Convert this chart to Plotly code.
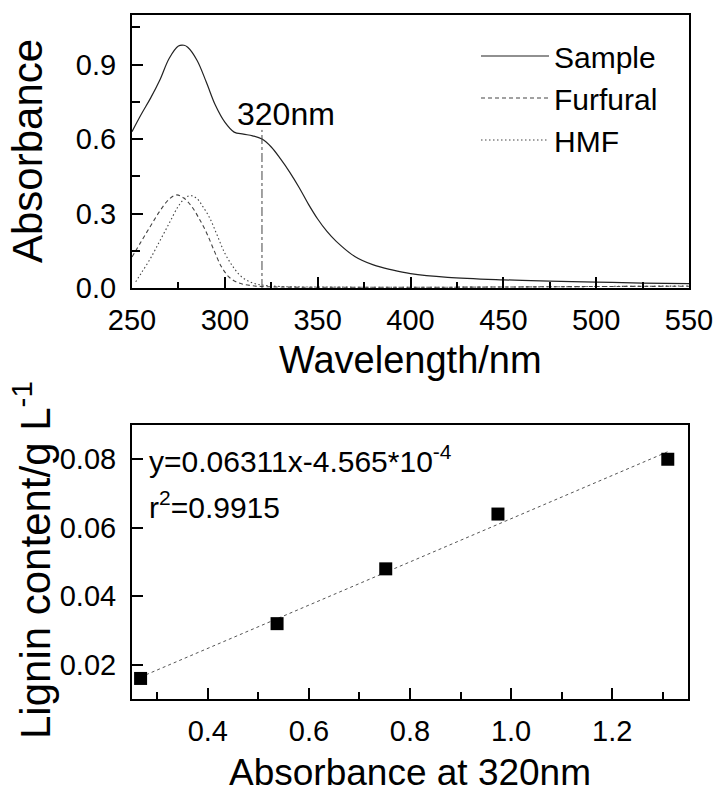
import plotly.graph_objects as go

W, H = 718, 794

# ---- top panel: UV spectra ----
sample_nm = [250, 255, 260, 265, 270, 275, 278, 280, 285, 290, 295, 300, 305, 310, 315, 320,
             325, 330, 335, 340, 345, 350, 355, 360, 370, 380, 390, 400, 420, 450, 475, 500, 525, 550]
sample_abs = [0.630, 0.700, 0.765, 0.838, 0.925, 0.975, 0.978, 0.970, 0.918, 0.830, 0.735, 0.668,
              0.628, 0.620, 0.613, 0.600, 0.568, 0.520, 0.466, 0.405, 0.338, 0.278, 0.228, 0.188,
              0.127, 0.093, 0.073, 0.058, 0.043, 0.033, 0.028, 0.024, 0.020, 0.018]

furfural_nm = [250, 255, 260, 265, 270, 274, 278, 282, 286, 290, 294, 298, 302, 306, 310, 315,
               320, 330, 350, 400, 450, 500, 550]
furfural_abs = [0.125, 0.188, 0.250, 0.310, 0.358, 0.375, 0.362, 0.330, 0.282, 0.225, 0.155, 0.088,
                0.046, 0.025, 0.015, 0.009, 0.006, 0.004, 0.003, 0.003, 0.004, 0.006, 0.007]

hmf_nm = [252, 255, 260, 265, 270, 275, 279, 282, 285, 288, 292, 296, 300, 304, 308, 312, 316,
          320, 330, 350, 400, 450, 500, 550]
hmf_abs = [0.025, 0.060, 0.120, 0.190, 0.260, 0.330, 0.365, 0.372, 0.360, 0.330, 0.280, 0.210,
           0.140, 0.090, 0.052, 0.030, 0.018, 0.012, 0.006, 0.004, 0.003, 0.004, 0.006, 0.008]

marker_nm = [320, 320]
marker_abs = [0.0, 0.637]

# ---- bottom panel: calibration ----
cal_abs = [0.267, 0.537, 0.752, 0.974, 1.310]
cal_lignin = [0.016, 0.032, 0.048, 0.064, 0.080]
fit_x = [0.267, 1.310]
fit_y = [0.0164, 0.0822]

FONT = "Liberation Sans, Arial, sans-serif"

# plot-area frames in pixels (left, right, top, bottom)
TOP = (132, 689, 15, 288)
BOT = (132, 688, 425, 699)


def xdom(b):
    return [b[0] / W, b[1] / W]


def ydom(b):
    return [1 - b[3] / H, 1 - b[2] / H]


fig = go.Figure()
fig.add_trace(go.Scatter(x=sample_nm, y=sample_abs, mode="lines", name="Sample",
                         line=dict(color="#222", width=1.2, shape="spline"), xaxis="x", yaxis="y"))
fig.add_trace(go.Scatter(x=furfural_nm, y=furfural_abs, mode="lines", name="Furfural",
                         line=dict(color="#444", width=1.1, dash="4px,3px", shape="spline"),
                         xaxis="x", yaxis="y"))
fig.add_trace(go.Scatter(x=hmf_nm, y=hmf_abs, mode="lines", name="HMF",
                         line=dict(color="#444", width=1.1, dash="1.5px,2.5px", shape="spline"),
                         xaxis="x", yaxis="y"))
fig.add_trace(go.Scatter(x=marker_nm, y=marker_abs, mode="lines", showlegend=False,
                         line=dict(color="#444", width=1, dash="dashdot"), xaxis="x", yaxis="y"))

fig.add_trace(go.Scatter(x=fit_x, y=fit_y, mode="lines", showlegend=False,
                         line=dict(color="#555", width=1, dash="dot"), xaxis="x2", yaxis="y2"))
fig.add_trace(go.Scatter(x=cal_abs, y=cal_lignin, mode="markers", showlegend=False,
                         marker=dict(symbol="square", size=13, color="black"),
                         xaxis="x2", yaxis="y2"))

axis_common = dict(showline=True, linecolor="black", linewidth=2, mirror=True,
                   ticks="inside", tickcolor="black", tickwidth=1.5, ticklen=11,
                   showgrid=False, zeroline=False, automargin=False,
                   tickfont=dict(family=FONT, size=29, color="black"))

tfont = lambda s: dict(family=FONT, size=s, color="black")

fig.update_layout(
    template="none",
    width=W, height=H,
    margin=dict(l=0, r=0, t=0, b=0, pad=0),
    paper_bgcolor="white", plot_bgcolor="white",
    font=dict(family=FONT, color="black"),
    xaxis=dict(axis_common, domain=xdom(TOP), range=[250, 550], dtick=50,
               tick0=250, anchor="y", ticklabelstandoff=5,
               minor=dict(ticks="inside", ticklen=6, dtick=25, tickcolor="black", tickwidth=1.5)),
    yaxis=dict(axis_common, domain=ydom(TOP), range=[0, 1.1], dtick=0.3,
               tick0=0, tickformat=".1f", anchor="x", ticklabelstandoff=8,
               minor=dict(ticks="inside", ticklen=8, dtick=0.15, tickcolor="black", tickwidth=1.5)),
    xaxis2=dict(axis_common, domain=xdom(BOT), range=[0.25, 1.35], dtick=0.2,
                tick0=0.4, tickformat=".1f", anchor="y2", ticklabelstandoff=5,
                minor=dict(ticks="inside", ticklen=7, dtick=0.1, tickcolor="black", tickwidth=1.5)),
    yaxis2=dict(axis_common, domain=ydom(BOT), range=[0.01, 0.09], dtick=0.02,
                tick0=0.02, tickformat=".2f", anchor="x2", ticklabelstandoff=8),
    legend=dict(x=476 / W, y=1 - 30 / H, xanchor="left", yanchor="top",
                font=tfont(30), bgcolor="rgba(0,0,0,0)",
                itemwidth=68, tracegroupgap=0),
    showlegend=True,
    annotations=[
        # axis titles
        dict(x=410.5 / W, y=1 - 360 / H, xref="paper", yref="paper", text="Wavelength/nm",
             showarrow=False, xanchor="center", yanchor="middle", font=tfont(38)),
        dict(x=28 / W, y=1 - 151 / H, xref="paper", yref="paper", text="Absorbance",
             showarrow=False, xanchor="center", yanchor="middle", textangle=-90, font=tfont(42)),
        dict(x=410 / W, y=0, xref="paper", yref="paper", text="Absorbance at 320nm",
             showarrow=False, xanchor="center", yanchor="bottom", font=tfont(37), borderpad=0),
        dict(x=32 / W, y=1 - 560 / H, xref="paper", yref="paper",
             text="Lignin content/g L<sup>-1</sup>",
             showarrow=False, xanchor="center", yanchor="middle", textangle=-90, font=tfont(42)),
        # in-plot labels
        dict(x=333, y=0.702, xref="x", yref="y", text="320nm", showarrow=False,
             font=tfont(32)),
        dict(x=0.2797, y=0.08, xref="x2", yref="y2", xanchor="left",
             text="y=0.06311x-4.565*10<sup>-4</sup>", showarrow=False, font=tfont(30)),
        dict(x=0.2797, y=0.0665, xref="x2", yref="y2", xanchor="left",
             text="r<sup>2</sup>=0.9915", showarrow=False, font=tfont(30)),
    ],
)

fig.write_html("out.html", config={"displayModeBar": False},
               post_script="document.body.style.margin='0';")
